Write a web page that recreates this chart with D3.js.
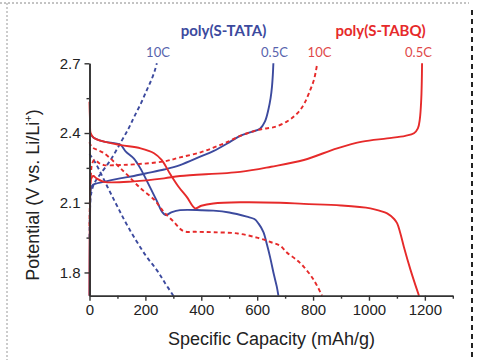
<!DOCTYPE html>
<html><head><meta charset="utf-8">
<script src="https://cdn.jsdelivr.net/npm/d3@7"></script>
<style>body{margin:0;background:#fff}svg{display:block}</style>
</head><body>
<script>
// ---- data (capacity mAh/g, potential V) ----
const capTicks = [0, 200, 400, 600, 800, 1000, 1200];
const capMinor = [100, 300, 500, 700, 900, 1100, 1300];
const potTicks = [1.8, 2.1, 2.4, 2.7];
const potMinor = [1.95, 2.25, 2.55];

const tataCharge05 = [[0,1.70],[2,2.05],[4,2.15],[10,2.175],[52,2.19],[109,2.205],[159,2.215],[200,2.226],[267,2.243],[324,2.262],[396,2.298],[443,2.322],[500,2.36],[539,2.388],[580,2.405],[610,2.418],[628,2.45],[640,2.5],[648,2.55],[653,2.6],[656,2.65],[658,2.70]];
const tataDischarge05 = [[0,2.40],[4,2.395],[15,2.38],[52,2.363],[110,2.35],[130,2.32],[159,2.29],[181,2.25],[207,2.19],[240,2.11],[260,2.06],[272,2.047],[295,2.06],[324,2.068],[400,2.068],[443,2.066],[500,2.058],[563,2.04],[590,2.03],[605,2.01],[622,1.975],[635,1.92],[646,1.867],[660,1.79],[670,1.74],[676,1.70]];
const tataCharge10 = [[0,1.95],[4,2.12],[10,2.16],[20,2.19],[40,2.225],[76,2.285],[112,2.36],[140,2.42],[160,2.47],[185,2.53],[205,2.585],[222,2.63],[234,2.67],[241,2.70]];
const tataDischarge10 = [[0,2.31],[22,2.27],[64,2.169],[100,2.083],[141,1.99],[200,1.875],[241,1.81],[270,1.755],[300,1.70]];

const tabqCharge05 = [[0,1.70],[2,2.10],[5,2.20],[14,2.215],[25,2.205],[52,2.19],[159,2.192],[267,2.205],[324,2.215],[539,2.233],[650,2.255],[767,2.284],[886,2.334],[976,2.363],[1065,2.377],[1130,2.388],[1161,2.399],[1175,2.42],[1182,2.46],[1187,2.542],[1189,2.62],[1190,2.70]];
const tabqDischarge05 = [[0,2.535],[2,2.45],[4,2.40],[15,2.38],[52,2.363],[112,2.348],[183,2.334],[231,2.313],[258,2.284],[288,2.225],[318,2.17],[348,2.125],[378,2.076],[400,2.087],[443,2.097],[539,2.102],[682,2.10],[767,2.095],[900,2.088],[1005,2.076],[1040,2.065],[1065,2.054],[1090,2.03],[1101,2.011],[1112,1.97],[1125,1.91],[1149,1.81],[1165,1.75],[1179,1.70]];
const tabqCharge10 = [[0,2.0],[4,2.2],[10,2.27],[18,2.285],[35,2.27],[52,2.262],[100,2.262],[159,2.265],[267,2.278],[324,2.295],[400,2.318],[450,2.34],[500,2.365],[539,2.388],[580,2.405],[620,2.418],[660,2.425],[706,2.449],[735,2.475],[754,2.499],[770,2.53],[785,2.571],[803,2.628],[815,2.70]];
const tabqDischarge10 = [[0,2.36],[8,2.34],[52,2.313],[124,2.233],[183,2.162],[230,2.115],[252,2.082],[270,2.055],[300,2.02],[336,1.978],[380,1.975],[443,1.973],[528,1.968],[599,1.95],[650,1.93],[682,1.915],[707,1.885],[740,1.855],[767,1.824],[803,1.767],[832,1.70]];

const BLUE = "#3c4a9e", RED = "#e62a2a";

const W = 477, H = 360;
const svg = d3.select("body").append("svg").attr("width", W).attr("height", H);

// frame
svg.append("line").attr("x1",0).attr("x2",469).attr("y1",3).attr("y2",3)
  .attr("stroke","#888").attr("stroke-width",1).attr("stroke-dasharray","2,2");
svg.append("line").attr("x1",7).attr("x2",7).attr("y1",3).attr("y2",H)
  .attr("stroke","#999").attr("stroke-width",1).attr("stroke-dasharray","2,2");
svg.append("line").attr("x1",472).attr("x2",472).attr("y1",10).attr("y2",H)
  .attr("stroke","#222").attr("stroke-width",2).attr("stroke-dasharray","5,4");

const x = d3.scaleLinear().domain([0, 1300]).range([89.5, 452.8]);
const y = d3.scaleLinear().domain([1.7, 2.7]).range([295.7, 63.3]);

const line = d3.line().x(d => x(d[0])).y(d => y(d[1])).curve(d3.curveCatmullRom.alpha(0.5));

const series = [
  {d: tataDischarge10, c: BLUE, dash: "4,3"},
  {d: tataCharge10, c: BLUE, dash: "4,3"},
  {d: tataCharge05, c: BLUE, dash: null},
  {d: tataDischarge05, c: BLUE, dash: null},
  {d: tabqDischarge10, c: RED, dash: "4,3"},
  {d: tabqCharge10, c: RED, dash: "4,3"},
  {d: tabqCharge05, c: RED, dash: null},
  {d: tabqDischarge05, c: RED, dash: null}
];
series.forEach(s => {
  svg.append("path").attr("d", line(s.d)).attr("fill","none")
    .attr("stroke", s.c).attr("stroke-width", 1.9)
    .attr("stroke-dasharray", s.dash);
});

// axes
const axCol = "#333";
const gx = svg.append("g").attr("transform", `translate(0,${y(1.7)})`)
  .call(d3.axisBottom(x).tickValues(capTicks).tickFormat(d3.format("d")).tickSize(5).tickSizeOuter(0).tickPadding(4));
const gxm = svg.append("g").attr("transform", `translate(0,${y(1.7)})`)
  .call(d3.axisBottom(x).tickValues(capMinor).tickFormat("").tickSize(3).tickSizeOuter(0));
const gy = svg.append("g").attr("transform", `translate(${x(0)},0)`)
  .call(d3.axisLeft(y).tickValues(potTicks).tickFormat(d3.format(".1f")).tickSize(5).tickSizeOuter(0).tickPadding(4));
const gym = svg.append("g").attr("transform", `translate(${x(0)},0)`)
  .call(d3.axisLeft(y).tickValues(potMinor).tickFormat("").tickSize(3).tickSizeOuter(0));
[gx, gxm, gy, gym].forEach(g => {
  g.select(".domain").attr("stroke", axCol).attr("stroke-width", 1.6);
  g.selectAll(".tick line").attr("stroke", axCol).attr("stroke-width", 1.4);
  g.selectAll("text").attr("font-family", "Liberation Sans, Arial, sans-serif")
    .attr("font-size", 15).attr("fill", "#222");
});

// axis titles
svg.append("text").attr("x", 271.5).attr("y", 345).attr("text-anchor","middle")
  .attr("font-family","Liberation Sans, Arial, sans-serif").attr("font-size",18).attr("fill","#222")
  .text("Specific Capacity (mAh/g)");
const yt = svg.append("text").attr("transform","translate(39,195) rotate(-90)").attr("text-anchor","middle")
  .attr("font-family","Liberation Sans, Arial, sans-serif").attr("font-size",18).attr("fill","#222");
yt.append("tspan").text("Potential (V vs. Li/Li");
yt.append("tspan").attr("dy",-7).attr("font-size",11).text("+");
yt.append("tspan").attr("dy",7).text(")");

// annotations
const ann = (t, xx, yy, col, size, bold) => svg.append("text").attr("x", xx).attr("y", yy)
  .attr("text-anchor","middle").attr("font-family","Lato, Open Sans, sans-serif")
  .attr("font-size", size).attr("font-weight", bold ? "bold" : "normal").attr("fill", col).text(t);
ann("poly(S-TATA)", 223.5, 36, BLUE, 15, true);
ann("poly(S-TABQ)", 380.5, 36, RED, 15, true);
ann("10C", 158, 57, "#5863ad", 13, false);
ann("0.5C", 274.5, 57, "#5863ad", 13, false);
ann("10C", 319.5, 57, "#e04848", 13, false);
ann("0.5C", 418.5, 57, "#e04848", 13, false);
</script>
</body></html>
